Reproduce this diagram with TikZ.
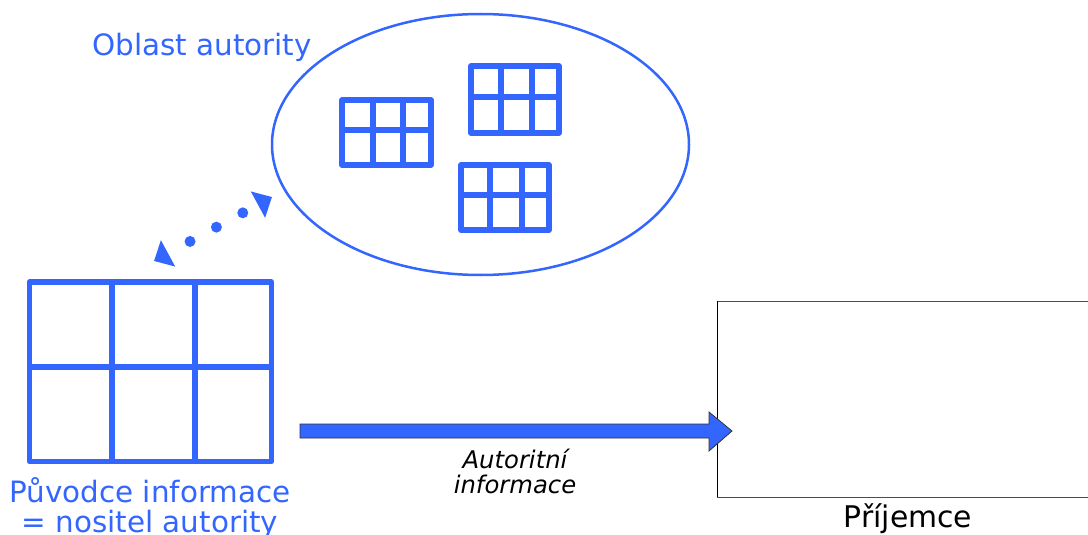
\documentclass[tikz,border=0pt]{standalone}
\usepackage{fontspec}
\setmainfont{DejaVu Sans}
\usetikzlibrary{arrows.meta,shapes.geometric}
\definecolor{ablue}{HTML}{3366FF}
\newcommand{\mygrid}[7]{%
  \draw[gridline] (#1,#2) rectangle (#3,#4);
  \draw[gridline] (#1,#5) -- (#3,#5);
  \draw[gridline] (#6,#2) -- (#6,#4);
  \draw[gridline] (#7,#2) -- (#7,#4);
}
\tikzset{
  gridline/.style={draw=ablue,line width=5.5pt,line join=round},
  bluetext/.style={text=ablue,font=\fontsize{29.4}{30}\selectfont,inner sep=0pt,anchor=base},
  blacktext/.style={text=black,font=\fontsize{29.8}{30}\selectfont,inner sep=0pt,anchor=base},
  italtext/.style={text=black,font=\fontsize{24.3}{27}\selectfont\itshape,inner sep=0pt,anchor=base},
}
\begin{document}
\begin{tikzpicture}[x=1pt,y=-1pt]
\useasboundingbox (0,0) rectangle (1088,535);
% area of authority
\node[ellipse,draw=ablue,line width=2.5pt,minimum width=417pt,minimum height=261pt,inner sep=0pt] (ell) at (480.5,144.5) {};
\node[bluetext] (oblast) at (202,56) {Oblast autority};
\mygrid{342}{100}{431}{165}{130}{373}{403}
\mygrid{471}{66}{559}{133}{97}{501}{532}
\mygrid{461}{165}{549}{230}{195}{490}{522}
% originator
\mygrid{29.5}{282}{271.5}{461.5}{367}{112}{195}
\node[bluetext] (orig1) at (150,502) {Původce informace};
\node[bluetext] (orig2) at (150,532) {= nositel autority};
% dotted connector
\coordinate (dA) at (154,261);
\coordinate (dB) at (272,197);
\draw[ablue,line width=11pt,line cap=round,dash pattern=on 0pt off 30pt,dash phase=4pt,
  {Triangle[length=16pt,width=29pt]}-{Triangle[length=16pt,width=29pt]}] (dA) -- (dB);
% receiver
\draw[gray!60!black,line width=1pt] (717,301) -- (1090,301);
\draw[gray!60!black,line width=1pt] (717,497) -- (1090,497);
\draw[black,line width=1pt] (717,301) -- (717,497);
\coordinate (recv) at (717,399);
\node[blacktext] (prij) at (908,527) {Příjemce};
% authoritative information arrow
\draw[fill=ablue,draw=black!80,line width=0.8pt]
  (300,424) -- (709,424) -- (709,412) -- (732,431) -- (709,451) -- (709,438) -- (300,438) -- cycle;
\node[italtext] (ai1) at (515,468) {Autoritní};
\node[italtext] (ai2) at (515,493) {informace};
\end{tikzpicture}
\end{document}
